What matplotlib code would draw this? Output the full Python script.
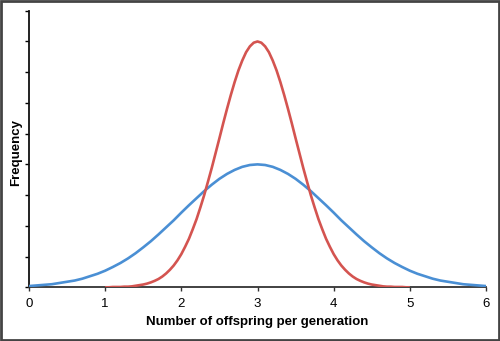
import numpy as np
import matplotlib
matplotlib.use('Agg')
from matplotlib import pyplot as plt
from matplotlib.patches import Rectangle

# offspring counts, every 0.1 (blue) and 0.05 (red)
x_wide = np.round(np.arange(0, 6.01, 0.1), 2)
y_wide = [0.04, 0.06, 0.08, 0.10, 0.14, 0.18, 0.22, 0.28, 0.36, 0.44,
          0.54, 0.66, 0.79, 0.94, 1.11, 1.30, 1.50, 1.72, 1.95, 2.18,
          2.43, 2.67, 2.90, 3.13, 3.34, 3.53, 3.69, 3.82, 3.92, 3.98,
          4.00,
          3.98, 3.92, 3.82, 3.69, 3.53, 3.34, 3.13, 2.90, 2.67, 2.43,
          2.18, 1.95, 1.72, 1.50, 1.30, 1.11, 0.94, 0.79, 0.66, 0.54,
          0.44, 0.36, 0.28, 0.22, 0.18, 0.14, 0.10, 0.08, 0.06, 0.04]

x_narrow = np.round(np.arange(1, 5.001, 0.05), 2)
y_narrow = [0.00, 0.00, 0.01, 0.01, 0.01, 0.02, 0.02, 0.03, 0.05, 0.07,
            0.09, 0.12, 0.16, 0.21, 0.27, 0.35, 0.45, 0.57, 0.71, 0.88,
            1.08, 1.32, 1.58, 1.89, 2.22, 2.60, 3.00, 3.44, 3.89, 4.37,
            4.85, 5.34, 5.81, 6.26, 6.68, 7.06, 7.38, 7.65, 7.84, 7.96,
            8.00,
            7.96, 7.84, 7.65, 7.38, 7.06, 6.68, 6.26, 5.81, 5.34, 4.85,
            4.37, 3.89, 3.44, 3.00, 2.60, 2.22, 1.89, 1.58, 1.32, 1.08,
            0.88, 0.71, 0.57, 0.45, 0.35, 0.27, 0.21, 0.16, 0.12, 0.09,
            0.07, 0.05, 0.03, 0.02, 0.02, 0.01, 0.01, 0.01, 0.00, 0.00]

x_ticks = [0, 1, 2, 3, 4, 5, 6]

plt.rcParams['font.family'] = ['Liberation Sans', 'DejaVu Sans']

fig = plt.figure(figsize=(5, 3.41), dpi=100)
ax = fig.add_axes([0.058, 0.1575, 0.914, 0.811])

ax.plot(x_wide, y_wide, color='#4a8fd4', lw=1.9, solid_capstyle='butt', zorder=3)
ax.plot(x_narrow, y_narrow, color='#d45450', lw=1.9, solid_capstyle='butt', zorder=3)

ax.set_xlim(0, 6)
ax.set_ylim(0, 9)
ax.set_xticks(x_ticks)
ax.set_yticks(range(10))
ax.set_yticklabels([])
ax.tick_params(axis='x', direction='out', length=3, width=1, labelsize=9.5, pad=5, color='#333333')
ax.tick_params(axis='y', direction='out', length=3, width=1)

for s in ['top', 'right']:
    ax.spines[s].set_visible(False)
ax.spines['left'].set_linewidth(1.3)
ax.spines['bottom'].set_linewidth(1.3)
ax.spines['bottom'].set_color('#333333')
ax.spines['left'].set_color('#111111')

ax.set_xlabel('Number of offspring per generation', fontsize=9.5, fontweight='bold', labelpad=4)
fig.text(16 / 500, 1 - 152 / 341, 'Frequency', rotation=90, ha='center', va='center',
         fontsize=9.5, fontweight='bold')

# dark frame round the picture
fig.patches.append(Rectangle((0.002, 0.003), 0.996, 0.994, transform=fig.transFigure,
                             fill=False, edgecolor='#444444', lw=2))

fig.savefig('out.png', dpi=100)
